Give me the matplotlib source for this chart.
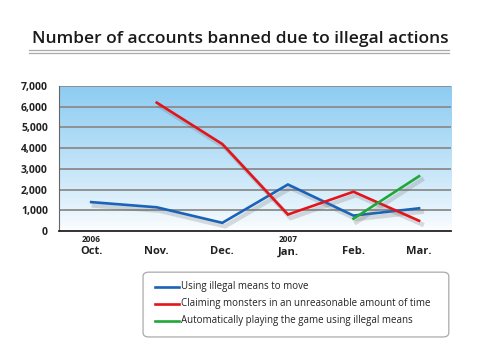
import numpy as np
import matplotlib.pyplot as plt
import matplotlib.patheffects as pe
from matplotlib.patches import FancyBboxPatch
from matplotlib.lines import Line2D

months = ["Oct.", "Nov.", "Dec.", "Jan.", "Feb.", "Mar."]
years = {0: "2006", 3: "2007"}

move = [1400, 1150, 400, 2250, 750, 1100]
claim = [None, 6200, 4200, 800, 1900, 500]
auto = [None, None, None, None, 600, 2650]

labels = ["Using illegal means to move",
          "Claiming monsters in an unreasonable amount of time",
          "Automatically playing the game using illegal means"]
colors = ["#1b63b8", "#e3141b", "#1fa838"]

plt.rcParams['font.family'] = ['Open Sans', 'DejaVu Sans']

fig = plt.figure(figsize=(4.8, 3.6), dpi=100)
ax = fig.add_axes([0.123, 0.358, 0.817, 0.403])

# background gradient
grad = np.linspace(0, 1, 256).reshape(-1, 1)
top = np.array([0.55, 0.80, 0.95])
bot = np.array([1.0, 1.0, 1.0])
img = bot + (top - bot) * grad ** 0.8
ax.imshow(img[:, None, :].repeat(2, axis=1), extent=[-0.49, 5.49, 0, 7000],
          origin='lower', aspect='auto', zorder=0)

ax.set_xlim(-0.49, 5.49)
ax.set_ylim(0, 7000)
for v in range(1000, 8000, 1000):
    ax.axhline(v, color='#8c8c8c', lw=1.3, zorder=1)

shadow = [pe.SimpleLineShadow(offset=(2, -2.5), shadow_color='#666666', alpha=0.22,
                              linewidth=3.2),
          pe.Normal()]
x = np.arange(len(months))
for data, c in zip([move, claim, auto], colors):
    y = np.array([np.nan if v is None else v for v in data], dtype=float)
    ax.plot(x, y, color=c, lw=1.9, zorder=3, path_effects=shadow,
            solid_joinstyle='miter')

for s in ['top', 'right']:
    ax.spines[s].set_visible(False)
ax.spines['left'].set_color('#666666')
ax.spines['bottom'].set_color('#222222')
ax.spines['bottom'].set_linewidth(1.3)

ax.set_yticks(range(0, 8000, 1000))
ax.set_yticklabels([f"{v:,}" for v in range(0, 8000, 1000)],
                   fontsize=7.5, fontweight='bold', color='#222222')
ax.set_xticks(x)
ax.set_xticklabels(months, fontsize=8, fontweight='bold', color='#222222')
ax.tick_params(length=0, pad=11)
ax.tick_params(axis='y', pad=8)
for i, yr in years.items():
    ax.text(i, -0.03, yr, transform=ax.get_xaxis_transform(), ha='center',
            va='top', fontsize=6, fontweight='bold', color='#222222')

# title with double rule
fig.text(0.5, 0.893, "Number of accounts banned due to illegal actions",
         ha='center', va='center', fontsize=12.5, fontweight='semibold',
         color='#1a1a1a')
for yy in (0.862, 0.854):
    fig.add_artist(Line2D([0.06, 0.935], [yy, yy], color='#aaaaaa', lw=0.9))

# legend box
box = FancyBboxPatch((0.298, 0.064), 0.637, 0.18, transform=fig.transFigure,
                     boxstyle='round,pad=0,rounding_size=0.012',
                     facecolor='white', edgecolor='#aaaaaa', lw=0.9)
fig.add_artist(box)
for k, (lab, c) in enumerate(zip(labels, colors)):
    yy = 0.203 - k * 0.047
    fig.add_artist(Line2D([0.323, 0.372], [yy, yy], color=c, lw=1.9))
    fig.text(0.377, yy, lab, ha='left', va='center', fontsize=7,
             color='#222222')

fig.savefig("out.png", dpi=100)
